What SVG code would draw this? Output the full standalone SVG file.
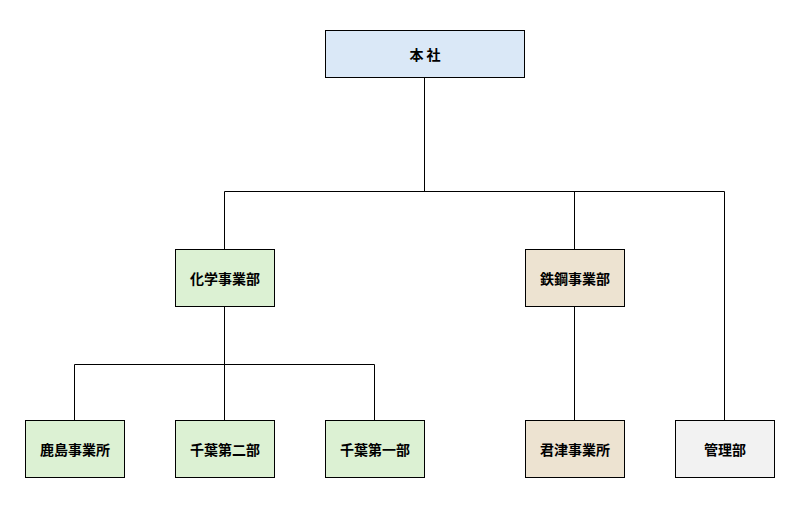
<svg xmlns="http://www.w3.org/2000/svg" width="797" height="515" viewBox="0 0 797 515">
<style>
rect{stroke:#000;stroke-width:1}
text{font-family:"Noto Sans CJK JP",sans-serif;font-size:14px;font-weight:bold;text-anchor:middle;dominant-baseline:central;fill:#000}
.b{fill:#dae8f7}.g{fill:#dcf1d3}.t{fill:#ede3d1}.y{fill:#f2f2f2}
#connectors path{fill:none;stroke:#000;stroke-width:1}
</style>
<rect width="797" height="515" fill="#fff" style="stroke:none"/>
<g id="connectors">
<path d="M424.5 78V191.5M224.5 191.5H724.5M224.5 191.5V249M574.5 191.5V249M724.5 191.5V420"/>
<path d="M224.5 306V364.5M74.5 364.5H374.5M74.5 364.5V420M224.5 364.5V420M374.5 364.5V420"/>
<path d="M574.5 306V420"/>
</g>
<g id="honsha"><rect class="b" x="325.5" y="30.5" width="199" height="47"/><text x="425" y="54">本 社</text></g>
<g id="kagaku"><rect class="g" x="175.5" y="249.5" width="99" height="57"/><text x="225" y="278">化学事業部</text></g>
<g id="tekko"><rect class="t" x="525.5" y="249.5" width="99" height="57"/><text x="575" y="278">鉄鋼事業部</text></g>
<g id="kashima"><rect class="g" x="25.5" y="420.5" width="99" height="57"/><text x="75" y="449">鹿島事業所</text></g>
<g id="chiba2"><rect class="g" x="175.5" y="420.5" width="99" height="57"/><text x="225" y="449">千葉第二部</text></g>
<g id="chiba1"><rect class="g" x="325.5" y="420.5" width="99" height="57"/><text x="375" y="449">千葉第一部</text></g>
<g id="kimitsu"><rect class="t" x="525.5" y="420.5" width="99" height="57"/><text x="575" y="449">君津事業所</text></g>
<g id="kanri"><rect class="y" x="675.5" y="420.5" width="99" height="57"/><text x="725" y="449">管理部</text></g>
</svg>
